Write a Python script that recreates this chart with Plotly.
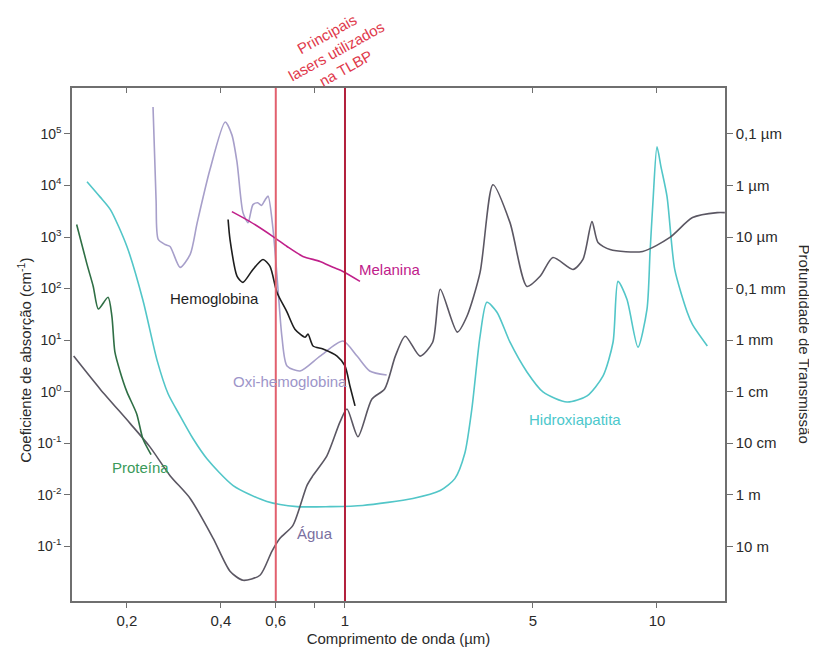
import plotly.graph_objects as go

# ---------------- data (wavelength in µm, absorption coefficient in cm^-1) ----------------
agua_x = [0.135, 0.164, 0.205, 0.237, 0.275, 0.319, 0.378, 0.428, 0.471, 0.534, 0.583, 0.619,
          0.681, 0.755, 0.789, 0.875, 0.964, 1.015, 1.10, 1.22, 1.34, 1.45, 1.56, 1.74, 1.91,
          2.02, 2.29, 2.46, 2.71, 2.98, 3.38, 3.83, 4.22, 4.64, 5.38, 5.79, 6.19, 6.47, 7.07,
          9.0, 11.0, 13.0, 15.6, 16.5]
agua_y = [4.9, 1.13, 0.24, 0.085, 0.0235, 0.0085, 0.00143, 0.00033, 0.00022, 0.000275, 0.0008,
          0.00143, 0.00255, 0.0151, 0.0235, 0.057, 0.26, 0.46, 0.134, 0.72, 1.13, 4.9, 11.9, 4.9,
          9.1, 97, 14.3, 29, 206, 10300, 1900, 110, 173, 400, 235, 367, 1990, 780, 570, 525, 980,
          2380, 2970, 2970]

oxi_x = [0.2425, 0.248, 0.252, 0.265, 0.275, 0.296, 0.319, 0.336, 0.369, 0.413, 0.434, 0.451,
         0.471, 0.489, 0.507, 0.525, 0.540, 0.555, 0.567, 0.588, 0.610, 0.628, 0.652, 0.718,
         0.832, 0.985, 1.093, 1.20, 1.36]
oxi_y = [333000, 5300, 895, 716, 655, 258, 459, 1900, 20100, 170000, 95700, 27500, 2970, 1900,
         4250, 4600, 4100, 5300, 6200, 1400, 97, 11.4, 3.15, 2.52, 4.9, 9.6, 4.9, 2.52, 2.1]

hb_x = [0.422, 0.428, 0.451, 0.471, 0.507, 0.546, 0.575, 0.605, 0.652, 0.691, 0.745, 0.761,
        0.790, 0.850, 0.943, 1.0, 1.037, 1.077]
hb_y = [2180, 895, 173, 132, 235, 367, 269, 85, 34.8, 16.3, 11.4, 13.1, 7.7, 6.7, 4.9, 3.15,
        1.29, 0.53]

mel_x = [0.434, 0.496, 0.588, 0.652, 0.733, 0.832, 0.915, 0.985, 1.117]
mel_y = [3110, 1990, 1020, 655, 420, 336, 258, 215, 138]

prot_x = [0.138, 0.149, 0.156, 0.162, 0.174, 0.179, 0.183, 0.19, 0.2, 0.215, 0.225, 0.239]
prot_y = [1750, 294, 110, 40, 68, 29, 5.9, 2.5, 0.99, 0.37, 0.122, 0.06]

hap_x = [0.149, 0.164, 0.177, 0.2, 0.225, 0.25, 0.271, 0.296, 0.326, 0.361, 0.438, 0.562, 0.702,
         0.895, 1.14, 1.65, 2.02, 2.25, 2.42, 2.55, 2.71, 2.85, 3.07, 3.38, 3.83, 4.31, 5.15, 5.97,
         6.71, 7.23, 7.50, 8.01, 8.69, 9.29, 9.5, 9.71, 10.0, 10.3, 10.77, 11.4, 12.5, 13.0, 14.5]
hap_y = [11800, 6000, 3400, 655, 60, 4.0, 0.91, 0.34, 0.122, 0.050, 0.0151, 0.0074, 0.0059,
         0.0059, 0.0062, 0.0085, 0.0121, 0.0206, 0.063, 0.46, 11.9, 54, 34.8, 9.1, 2.41, 0.99,
         0.63, 0.83, 2.0, 9.1, 138, 62, 7.3, 40, 500, 5000, 56000, 23000, 6060, 235, 34.8, 20, 7.7]

laser_lines = [0.6, 1.0]

x_tickvals = [0.2, 0.4, 0.6, 0.8, 1, 4, 10]
x_ticktext = ["0,2", "0,4", "0,6", "", "1", "5", "10"]

y_tickvals = [1e5, 1e4, 1e3, 1e2, 1e1, 1e0, 1e-1, 1e-2, 1e-3]
y_ticktext = ["10<sup>5</sup>", "10<sup>4</sup>", "10<sup>3</sup>", "10<sup>2</sup>",
              "10<sup>1</sup>", "10<sup>0</sup>", "10<sup>-1</sup>", "10<sup>-2</sup>",
              "10<sup>-1</sup>"]
depth_ticktext = ["0,1 µm", "1 µm", "10 µm", "0,1 mm", "1 mm", "1 cm", "10 cm", "1 m", "10 m"]

# ---------------- styling ----------------
FONT = "Liberation Sans, Arial, sans-serif"
AXC = "#6f6f6f"
XR = [-0.875, 1.218]
YR = [-4.06, 5.89]

fig = go.Figure()


def add_curve(x, y, color, width=1.6):
    fig.add_trace(go.Scatter(x=x, y=y, mode="lines",
                             line=dict(color=color, width=width, shape="spline", smoothing=0.7),
                             showlegend=False, hoverinfo="skip"))


add_curve(hap_x, hap_y, "#52c6c8")
add_curve(agua_x, agua_y, "#5b5763")
add_curve(oxi_x, oxi_y, "#a79fca")
add_curve(prot_x, prot_y, "#2f6f45")
add_curve(hb_x, hb_y, "#1e1e1e")
add_curve(mel_x, mel_y, "#c0208a")

# invisible helper so the secondary axes are drawn
fig.add_trace(go.Scatter(x=[1], y=[1], xaxis="x2", yaxis="y2", mode="markers",
                         marker=dict(opacity=0), showlegend=False, hoverinfo="skip"))

# laser vertical lines
fig.add_shape(type="line", xref="x", yref="paper", x0=laser_lines[0], x1=laser_lines[0],
              y0=0, y1=1, line=dict(color="#e2606e", width=2))
fig.add_shape(type="line", xref="x", yref="paper", x0=laser_lines[1], x1=laser_lines[1],
              y0=0, y1=1, line=dict(color="#b3203c", width=2))

axis_common = dict(showgrid=False, zeroline=False, showline=True, linecolor=AXC, linewidth=1.5,
                   tickcolor=AXC, tickwidth=1.2)

fig.update_layout(
    width=809, height=649, autosize=False,
    margin=dict(l=64, r=92, t=80, b=54),
    paper_bgcolor="white", plot_bgcolor="white",
    font=dict(family=FONT, size=15, color="#2a2a2a"),
    xaxis=dict(type="log", range=XR, tickvals=x_tickvals, ticktext=x_ticktext,
               ticks="outside", ticklen=5, tickfont=dict(size=15),
               title=dict(text="Comprimento de onda (µm)", font=dict(size=15), standoff=6),
               **axis_common),
    xaxis2=dict(type="log", range=XR, overlaying="x", side="top", tickvals=x_tickvals,
                ticks="inside", ticklen=5, showticklabels=False, **axis_common),
    yaxis=dict(type="log", range=YR, tickvals=y_tickvals, ticktext=y_ticktext,
               ticks="outside", ticklen=6, tickfont=dict(size=14), **axis_common),
    yaxis2=dict(type="log", range=YR, overlaying="y", side="right", tickvals=y_tickvals,
                ticktext=depth_ticktext, ticks="outside", ticklen=6,
                tickfont=dict(size=15), **axis_common),
)

annotations = [
    dict(text="Coeficiente de absorção (cm<sup>-1</sup>)", xref="paper", yref="paper",
         x=-0.072, y=0.47, xanchor="center", yanchor="middle", textangle=-90, showarrow=False,
         font=dict(size=15, color="#2a2a2a")),
    dict(text="Profundidade de Transmissão", xref="paper", yref="paper",
         x=1.1225, y=0.50, xanchor="center", yanchor="middle", textangle=90, showarrow=False,
         font=dict(size=15, color="#2a2a2a")),
    dict(text="Principais<br>lasers utilizados<br>na TLBP", xref="paper", yref="paper",
         x=0.405, y=1.072, xanchor="center", yanchor="middle", textangle=-29, showarrow=False,
         font=dict(size=15, color="#e0394b")),
    # curve labels (positions in log10 data units)
    dict(text="Melanina", x=0.144, y=2.372, showarrow=False, font=dict(size=15, color="#c0208a")),
    dict(text="Hemoglobina", x=-0.417, y=1.812, showarrow=False, font=dict(size=15, color="#1e1e1e")),
    dict(text="Oxi-hemoglobina", x=-0.176, y=0.188, showarrow=False, font=dict(size=15, color="#9d95c9")),
    dict(text="Proteína", x=-0.657, y=-1.473, showarrow=False, font=dict(size=15, color="#3a9a5a")),
    dict(text="Água", x=-0.096, y=-2.749, showarrow=False, font=dict(size=15, color="#7a70a0")),
    dict(text="Hidroxiapatita", x=0.737, y=-0.546, showarrow=False, font=dict(size=15, color="#4cc8cc")),
]
fig.update_layout(annotations=annotations)

fig.write_html("out.html")
